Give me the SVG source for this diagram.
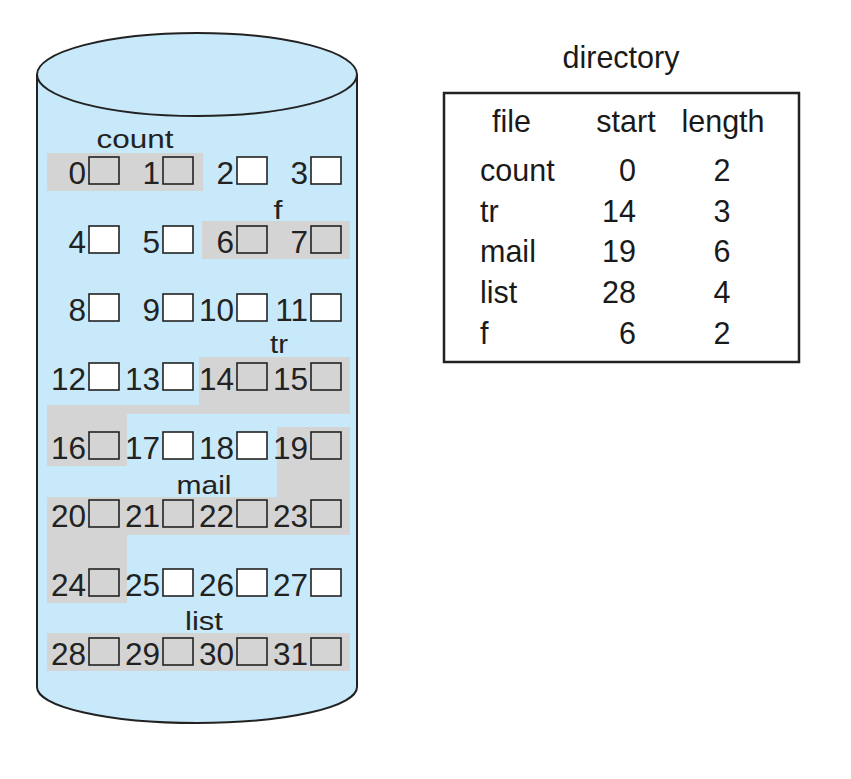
<svg xmlns="http://www.w3.org/2000/svg" width="851" height="779" viewBox="0 0 851 779">
<style>
.num{font-family:"Liberation Sans",Arial,sans-serif;font-size:31.5px;fill:#222;text-anchor:end}
.lbl{font-family:"Liberation Sans",Arial,sans-serif;font-size:25px;fill:#222;text-anchor:middle}
.tt{font-family:"Liberation Sans",Arial,sans-serif;font-size:30.5px;fill:#1a1a1a}
.w{fill:#ffffff;stroke:#222;stroke-width:1.6}
.g{fill:#d4d4d4;stroke:#222;stroke-width:1.6}
.sh{fill:#d4d4d4}
.cyl{fill:#c8e9f9;stroke:#222;stroke-width:2}
</style>
<rect width="851" height="779" fill="#ffffff"/>
<g id="disk">
<path class="cyl" d="M37,75 V687 A160,36 0 0 0 357,687 V75 Z"/>
<ellipse class="cyl" cx="197" cy="74.5" rx="160" ry="41.5"/>
</g>
<g id="shading">
<rect class="sh" x="47" y="153" width="156" height="38"/>
<rect class="sh" x="202" y="221" width="148" height="38"/>
<path class="sh" d="M199,357 H350 V414 H127 V466 H47 V405 H199 Z"/>
<path class="sh" d="M277,427 H350 V535 H127 V603 H47 V497 H277 Z"/>
<rect class="sh" x="47" y="633" width="303" height="38"/>
</g>
<g id="labels">
<text class="lbl" x="135" y="148" textLength="77" lengthAdjust="spacingAndGlyphs">count</text>
<text class="lbl" x="278" y="219" textLength="9" lengthAdjust="spacingAndGlyphs">f</text>
<text class="lbl" x="279" y="353" textLength="18" lengthAdjust="spacingAndGlyphs">tr</text>
<text class="lbl" x="204" y="494" textLength="55" lengthAdjust="spacingAndGlyphs">mail</text>
<text class="lbl" x="204" y="630" textLength="38" lengthAdjust="spacingAndGlyphs">list</text>
</g>
<g id="blocks">
<g id="b0"><text class="num" x="86" y="184">0</text><rect class="g" x="89" y="157" width="30" height="27"/></g>
<g id="b1"><text class="num" x="160" y="184">1</text><rect class="g" x="163" y="157" width="30" height="27"/></g>
<g id="b2"><text class="num" x="234" y="184">2</text><rect class="w" x="237" y="157" width="30" height="27"/></g>
<g id="b3"><text class="num" x="308" y="184">3</text><rect class="w" x="311" y="157" width="30" height="27"/></g>
<g id="b4"><text class="num" x="86" y="253">4</text><rect class="w" x="89" y="226" width="30" height="27"/></g>
<g id="b5"><text class="num" x="160" y="253">5</text><rect class="w" x="163" y="226" width="30" height="27"/></g>
<g id="b6"><text class="num" x="234" y="253">6</text><rect class="g" x="237" y="226" width="30" height="27"/></g>
<g id="b7"><text class="num" x="308" y="253">7</text><rect class="g" x="311" y="226" width="30" height="27"/></g>
<g id="b8"><text class="num" x="86" y="321">8</text><rect class="w" x="89" y="294" width="30" height="27"/></g>
<g id="b9"><text class="num" x="160" y="321">9</text><rect class="w" x="163" y="294" width="30" height="27"/></g>
<g id="b10"><text class="num" x="234" y="321">10</text><rect class="w" x="237" y="294" width="30" height="27"/></g>
<g id="b11"><text class="num" x="308" y="321">11</text><rect class="w" x="311" y="294" width="30" height="27"/></g>
<g id="b12"><text class="num" x="86" y="390">12</text><rect class="w" x="89" y="363" width="30" height="27"/></g>
<g id="b13"><text class="num" x="160" y="390">13</text><rect class="w" x="163" y="363" width="30" height="27"/></g>
<g id="b14"><text class="num" x="234" y="390">14</text><rect class="g" x="237" y="363" width="30" height="27"/></g>
<g id="b15"><text class="num" x="308" y="390">15</text><rect class="g" x="311" y="363" width="30" height="27"/></g>
<g id="b16"><text class="num" x="86" y="459">16</text><rect class="g" x="89" y="432" width="30" height="27"/></g>
<g id="b17"><text class="num" x="160" y="459">17</text><rect class="w" x="163" y="432" width="30" height="27"/></g>
<g id="b18"><text class="num" x="234" y="459">18</text><rect class="w" x="237" y="432" width="30" height="27"/></g>
<g id="b19"><text class="num" x="308" y="459">19</text><rect class="g" x="311" y="432" width="30" height="27"/></g>
<g id="b20"><text class="num" x="86" y="527">20</text><rect class="g" x="89" y="500" width="30" height="27"/></g>
<g id="b21"><text class="num" x="160" y="527">21</text><rect class="g" x="163" y="500" width="30" height="27"/></g>
<g id="b22"><text class="num" x="234" y="527">22</text><rect class="g" x="237" y="500" width="30" height="27"/></g>
<g id="b23"><text class="num" x="308" y="527">23</text><rect class="g" x="311" y="500" width="30" height="27"/></g>
<g id="b24"><text class="num" x="86" y="596">24</text><rect class="g" x="89" y="569" width="30" height="27"/></g>
<g id="b25"><text class="num" x="160" y="596">25</text><rect class="w" x="163" y="569" width="30" height="27"/></g>
<g id="b26"><text class="num" x="234" y="596">26</text><rect class="w" x="237" y="569" width="30" height="27"/></g>
<g id="b27"><text class="num" x="308" y="596">27</text><rect class="w" x="311" y="569" width="30" height="27"/></g>
<g id="b28"><text class="num" x="86" y="665">28</text><rect class="g" x="89" y="638" width="30" height="27"/></g>
<g id="b29"><text class="num" x="160" y="665">29</text><rect class="g" x="163" y="638" width="30" height="27"/></g>
<g id="b30"><text class="num" x="234" y="665">30</text><rect class="g" x="237" y="638" width="30" height="27"/></g>
<g id="b31"><text class="num" x="308" y="665">31</text><rect class="g" x="311" y="638" width="30" height="27"/></g>
</g>
<g id="directory">
<text class="tt" x="621" y="68" text-anchor="middle">directory</text>
<rect x="444" y="93" width="355" height="269" fill="#ffffff" stroke="#222" stroke-width="2.5"/>
<text class="tt" x="492" y="132">file</text>
<text class="tt" x="626" y="132" text-anchor="middle">start</text>
<text class="tt" x="723" y="132" text-anchor="middle">length</text>
<text class="tt" x="480" y="181">count</text>
<text class="tt" x="636" y="181" text-anchor="end">0</text>
<text class="tt" x="722" y="181" text-anchor="middle">2</text>
<text class="tt" x="480" y="222">tr</text>
<text class="tt" x="636" y="222" text-anchor="end">14</text>
<text class="tt" x="722" y="222" text-anchor="middle">3</text>
<text class="tt" x="480" y="262">mail</text>
<text class="tt" x="636" y="262" text-anchor="end">19</text>
<text class="tt" x="722" y="262" text-anchor="middle">6</text>
<text class="tt" x="480" y="303">list</text>
<text class="tt" x="636" y="303" text-anchor="end">28</text>
<text class="tt" x="722" y="303" text-anchor="middle">4</text>
<text class="tt" x="480" y="344">f</text>
<text class="tt" x="636" y="344" text-anchor="end">6</text>
<text class="tt" x="722" y="344" text-anchor="middle">2</text>
</g>
</svg>
